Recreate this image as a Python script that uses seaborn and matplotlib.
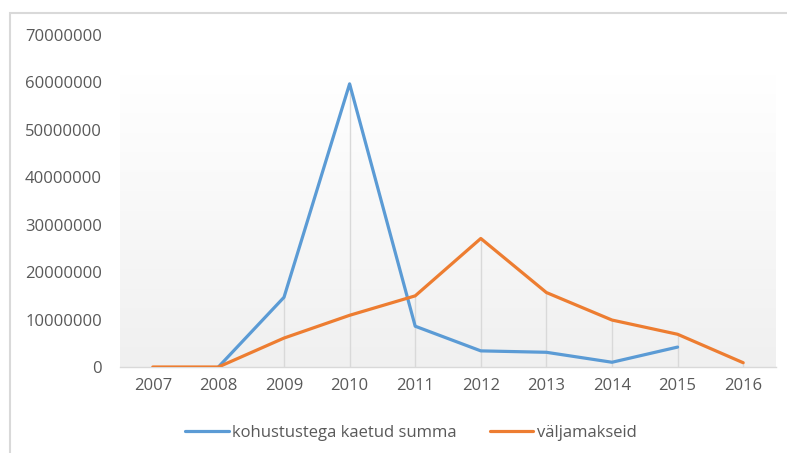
import numpy as np
import pandas as pd
import matplotlib
matplotlib.use("Agg")
import matplotlib.pyplot as plt
import seaborn as sns
from matplotlib.patches import Rectangle

years = [2007, 2008, 2009, 2010, 2011, 2012, 2013, 2014, 2015, 2016]
kaetud = [np.nan, 0, 14700000, 59700000, 8600000, 3400000, 3100000, 1000000, 4200000, np.nan]
valjamakseid = [0, 0, 6100000, 10900000, 15000000, 27100000, 15700000, 9900000, 6900000, 900000]
series_names = ["kohustustega kaetud summa", "väljamakseid"]
yticks = [0, 10000000, 20000000, 30000000, 40000000, 50000000, 60000000, 70000000]

df = pd.DataFrame({"year": years, series_names[0]: kaetud, series_names[1]: valjamakseid})
long = df.melt(id_vars="year", var_name="series", value_name="value").dropna()

sns.set_style("white")
plt.rcParams["font.family"] = ["Open Sans", "DejaVu Sans"]

fig = plt.figure(figsize=(7.87, 4.53), dpi=100)
ax = fig.add_axes([120 / 787, 1 - 367 / 453, 656 / 787, 332 / 453])

# Excel-like gradient plot area
grad = np.linspace(0, 1, 256).reshape(-1, 1)
cmap = matplotlib.colors.LinearSegmentedColormap.from_list("g", ["#f0f0f0", "#ffffff"])
ax.imshow(grad, cmap=cmap, aspect="auto", origin="lower",
          extent=[2006.5, 2016.5, 0, 61600000], zorder=0)

# drop lines to the highest point of each category
tops = np.nanmax(np.vstack([kaetud, valjamakseid]), axis=0)
ax.vlines(years, 0, tops, color="#d9d9d9", lw=1, zorder=1)

sns.lineplot(data=long, x="year", y="value", hue="series", hue_order=series_names,
             palette=["#5b9bd5", "#ed7d31"], linewidth=2.3, ax=ax, zorder=3)

ax.set_xlim(2006.5, 2016.5)
ax.set_ylim(0, 70000000)
ax.set_xticks(years)
ax.set_xticklabels([str(y) for y in years])
ax.set_yticks(yticks)
ax.set_yticklabels([str(v) for v in yticks])
ax.set_xlabel("")
ax.set_ylabel("")
for s in ["top", "right", "left"]:
    ax.spines[s].set_visible(False)
ax.spines["bottom"].set_color("#d9d9d9")
ax.spines["bottom"].set_linewidth(1)
ax.tick_params(axis="both", length=0, labelsize=12, labelcolor="#595959")
ax.tick_params(axis="y", pad=13)
ax.tick_params(axis="x", pad=8)

ax.legend_.remove()
h, l = ax.get_legend_handles_labels()
fig.legend(h, l, loc="center", bbox_to_anchor=(0.522, 0.044), ncol=2, frameon=False,
           fontsize=12, labelcolor="#595959", handlelength=2.6, handletextpad=0.2,
           columnspacing=2.0)

fig.patches.append(Rectangle((10 / 787, -0.1), 2, 1.1 - 13 / 453, transform=fig.transFigure,
                             fill=False, edgecolor="#d9d9d9", lw=1.5))

fig.savefig("out.png", dpi=100)
